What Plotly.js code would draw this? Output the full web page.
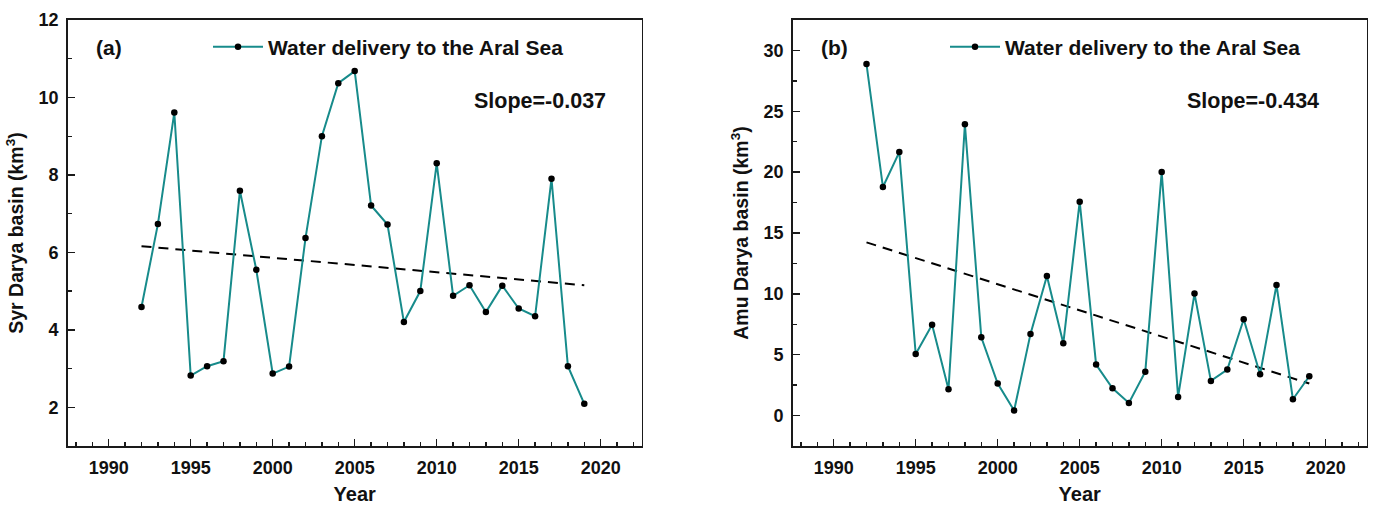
<!DOCTYPE html>
<html>
<head>
<meta charset="utf-8">
<script src="https://cdn.plot.ly/plotly-3.0.1.min.js"></script>
<style>html,body{margin:0;padding:0;background:#fff;}#chart{width:1383px;height:505px;}</style>
</head>
<body>
<div id="chart"></div>
<script>
// ---- data ----
const years = [1992,1993,1994,1995,1996,1997,1998,1999,2000,2001,2002,2003,2004,2005,2006,2007,2008,2009,2010,2011,2012,2013,2014,2015,2016,2017,2018,2019];
const syrDarya = [4.59,6.73,9.61,2.82,3.06,3.19,7.59,5.55,2.87,3.05,6.37,9.00,10.37,10.68,7.21,6.72,4.20,5.00,8.30,4.88,5.15,4.46,5.14,4.55,4.35,7.90,3.06,2.09];
const amuDarya = [28.88,18.78,21.65,5.06,7.47,2.16,23.93,6.43,2.63,0.41,6.71,11.47,5.94,17.57,4.19,2.24,1.04,3.61,20.01,1.53,10.02,2.85,3.78,7.91,3.39,10.73,1.34,3.23];
const trendYears = [1992, 2019];
const syrTrend = [6.16, 5.15];
const amuTrend = [14.23, 2.63];
const seriesName = "Water delivery to the Aral Sea";
const panelLabels = ["(a)", "(b)"];
const slopeLabels = ["Slope=-0.037", "Slope=-0.434"];
const yTitles = ["Syr Darya basin (km<sup>3</sup>)", "Amu Darya basin (km<sup>3</sup>)"];
const xTitle = "Year";

// ---- styling ----
const W = 1383, H = 505;
const TEAL = "#178b8b";
const FONT = "Liberation Sans, Arial, sans-serif";
const AX = "#1a1a1a";
const px = x => x / W;
const py = y => (446 - y) / 426;

function dataTrace(y, xa, ya, leg) {
  return {x: years, y: y, xaxis: xa, yaxis: ya, type: "scatter", mode: "lines+markers",
    name: seriesName, legend: leg,
    line: {color: TEAL, width: 2},
    marker: {color: "#000", size: 6.5}};
}
function trendTrace(y, xa, ya) {
  return {x: trendYears, y: y, xaxis: xa, yaxis: ya, type: "scatter", mode: "lines",
    showlegend: false, hoverinfo: "skip",
    line: {color: "#000", width: 2, dash: "10px,7px"}};
}

const traces = [
  trendTrace(syrTrend, "x", "y"),
  dataTrace(syrDarya, "x", "y", "legend"),
  trendTrace(amuTrend, "x2", "y2"),
  dataTrace(amuDarya, "x2", "y2", "legend2")
];

function xAxis(dom, anchor) {
  return {domain: dom, anchor: anchor, range: [1987.5, 2022.5], tickvals: [1990,1995,2000,2005,2010,2015,2020],
    ticks: "inside", ticklen: 7, tickwidth: 1.5, tickcolor: AX,
    minor: {dtick: 1, tick0: 1987, ticks: "inside", ticklen: 4, tickwidth: 1.3, tickcolor: AX},
    showline: true, linecolor: AX, linewidth: 1.6, mirror: true, showgrid: false, zeroline: false,
    tickfont: {family: FONT, size: 18, color: "#111", weight: "bold"},
    ticklabelstandoff: 5,
    title: {text: "<b>" + xTitle + "</b>", font: {family: FONT, size: 20, color: "#111"}, standoff: 12}};
}
function yAxis(dom, anchor, range, tv, mdt) {
  return {domain: [0, 1], anchor: anchor, range: range, tickvals: tv,
    ticks: "inside", ticklen: 7, tickwidth: 1.5, tickcolor: AX,
    minor: {dtick: mdt, ticks: "inside", ticklen: 4, tickwidth: 1.3, tickcolor: AX},
    showline: true, linecolor: AX, linewidth: 1.6, mirror: true, showgrid: false, zeroline: false,
    tickfont: {family: FONT, size: 18, color: "#111", weight: "bold"},
    ticklabelstandoff: 4,
    title: {text: "<b>" + dom + "</b>", font: {family: FONT, size: 19.5, color: "#111"}, standoff: 9}};
}

const layout = {
  width: W, height: H,
  margin: {l: 0, r: 0, t: 20, b: 59},
  paper_bgcolor: "#fff", plot_bgcolor: "#fff",
  showlegend: true,
  xaxis: xAxis([px(67.7), px(641.7)], "y"),
  yaxis: yAxis(yTitles[0], "x", [1, 12], [2,4,6,8,10,12], 1),
  xaxis2: xAxis([px(792.7), px(1366.7)], "y2"),
  yaxis2: yAxis(yTitles[1], "x2", [-2.5, 32.5], [0,5,10,15,20,25,30], 2.5),
  legend: {x: px(208), y: py(47), xanchor: "left", yanchor: "middle", bgcolor: "rgba(0,0,0,0)",
    font: {family: FONT, size: 21, color: "#111", weight: "bold"}, itemwidth: 50},
  legend2: {x: px(945), y: py(47), xanchor: "left", yanchor: "middle", bgcolor: "rgba(0,0,0,0)",
    font: {family: FONT, size: 21, color: "#111", weight: "bold"}, itemwidth: 50},
  annotations: [
    {text: "<b>" + panelLabels[0] + "</b>", xref: "paper", yref: "paper", x: px(94), y: py(47), xanchor: "left", yanchor: "middle", showarrow: false, font: {family: FONT, size: 21, color: "#111"}},
    {text: "<b>" + panelLabels[1] + "</b>", xref: "paper", yref: "paper", x: px(819), y: py(47), xanchor: "left", yanchor: "middle", showarrow: false, font: {family: FONT, size: 21, color: "#111"}},
    {text: "<b>" + slopeLabels[0] + "</b>", xref: "paper", yref: "paper", x: px(608), y: py(101), xanchor: "right", yanchor: "middle", showarrow: false, font: {family: FONT, size: 21.5, color: "#111"}},
    {text: "<b>" + slopeLabels[1] + "</b>", xref: "paper", yref: "paper", x: px(1321), y: py(101), xanchor: "right", yanchor: "middle", showarrow: false, font: {family: FONT, size: 21.5, color: "#111"}}
  ]
};

Plotly.newPlot("chart", traces, layout, {displayModeBar: false, staticPlot: true});
</script>
</body>
</html>
